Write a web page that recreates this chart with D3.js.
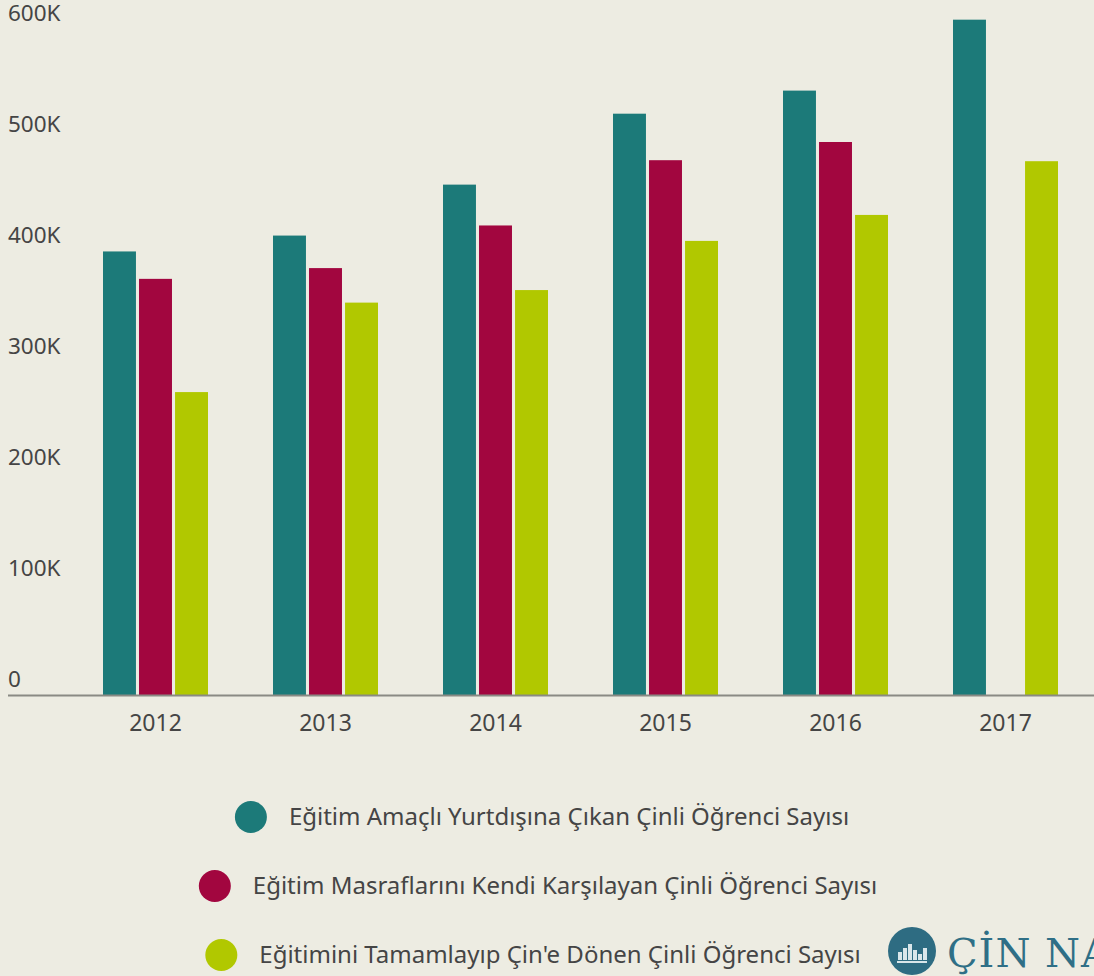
<!DOCTYPE html>
<html>
<head>
<meta charset="utf-8">
<script src="https://cdn.jsdelivr.net/npm/d3@7"></script>
<style>
  html, body { margin: 0; padding: 0; background: #edece2; overflow: hidden; }
  svg { display: block; }
  text { font-family: "Noto Sans", "Open Sans", sans-serif; fill: #454545; }
</style>
</head>
<body>
<script>
const years = ["2012", "2013", "2014", "2015", "2016", "2017"];
const seriesNames = [
  "Eğitim Amaçlı Yurtdışına Çıkan Çinli Öğrenci Sayısı",
  "Eğitim Masraflarını Kendi Karşılayan Çinli Öğrenci Sayısı",
  "Eğitimini Tamamlayıp Çin'e Dönen Çinli Öğrenci Sayısı"
];
const seriesColors = ["#1c7a79", "#a2063f", "#b1c800"];
// values in thousands (2017 has no middle bar)
const abroad = [399.6, 413.9, 459.8, 523.7, 544.5, 608.4];
const selfFunded = [374.9, 384.6, 423.0, 481.8, 498.2, null];
const returned = [272.9, 353.5, 364.8, 409.1, 432.5, 480.9];
const yTicks = [0, 100, 200, 300, 400, 500, 600];

const w = 1094, h = 976;
const svg = d3.select("body").append("svg").attr("width", w).attr("height", h);

const allSeries = [abroad, selfFunded, returned];

const x0 = d3.scaleBand().domain(years).range([70.5, 1090.5]).padding(0);
const x1 = d3.scaleBand().domain(d3.range(3))
  .range([x0.bandwidth() / 2 - 52.5, x0.bandwidth() / 2 + 52.5])
  .paddingInner(0.085);
const y = d3.scaleLinear().domain([0, 600]).range([695, 29]);

// y tick labels sit just above each value level, no gridlines
svg.append("g").selectAll("text")
  .data(yTicks)
  .enter()
  .append("text")
  .attr("x", 8)
  .attr("y", d => y(d) - 8)
  .attr("font-size", 22.5)
  .text(d => d === 0 ? "0" : d + "K");

// bars
const groups = svg.append("g").selectAll("g")
  .data(years)
  .enter()
  .append("g")
  .attr("transform", d => `translate(${x0(d)},0)`);

groups.selectAll("rect")
  .data((yr, i) => allSeries.map((s, k) => ({ k, v: s[i] })).filter(d => d.v != null))
  .enter()
  .append("rect")
  .attr("x", d => x1(d.k))
  .attr("y", d => y(d.v))
  .attr("width", x1.bandwidth())
  .attr("height", d => y(0) - y(d.v))
  .attr("fill", d => seriesColors[d.k]);

// baseline
svg.append("line")
  .attr("x1", 8).attr("x2", w)
  .attr("y1", 695.5).attr("y2", 695.5)
  .attr("stroke", "#8a8a84")
  .attr("stroke-width", 2);

// x labels
const xAxis = d3.axisBottom(x0).tickSize(0).tickPadding(0);
const xg = svg.append("g").attr("transform", "translate(0,695)").call(xAxis);
xg.select(".domain").remove();
xg.selectAll("text")
  .attr("dy", 0)
  .attr("y", 36)
  .attr("font-size", 23)
  .style("font-family", "'Noto Sans', sans-serif")
  .attr("fill", "#454545");

// legend, each row roughly centred
const legendRows = [817, 886, 955];
const legendCenters = [542, 538, 533];
seriesNames.forEach((name, i) => {
  const g = svg.append("g");
  const t = g.append("text")
    .attr("y", legendRows[i])
    .attr("dy", "0.35em")
    .attr("font-size", 24)
    .text(name);
  const tw = t.node().getComputedTextLength();
  const total = 32 + 22 + tw;
  const left = legendCenters[i] - total / 2;
  g.append("circle")
    .attr("cx", left + 16)
    .attr("cy", legendRows[i])
    .attr("r", 16)
    .attr("fill", seriesColors[i]);
  t.attr("x", left + 54);
});

// logo
const logo = svg.append("g").attr("transform", "translate(912,951)");
logo.append("circle").attr("r", 24).attr("fill", "#2e6c82");
const barsH = [8, 12, 16, 10, 6, 12];
barsH.forEach((bh, i) => {
  logo.append("rect")
    .attr("x", -14 + i * 5)
    .attr("y", 9 - bh)
    .attr("width", 4)
    .attr("height", bh)
    .attr("fill", "#d9e6ea");
});
logo.append("rect").attr("x", -15).attr("y", 10).attr("width", 30).attr("height", 2).attr("fill", "#d9e6ea");
svg.append("text")
  .attr("x", 947)
  .attr("y", 967)
  .attr("font-size", 40)
  .attr("letter-spacing", 1)
  .style("font-family", "'DejaVu Serif', 'Liberation Serif', serif")
  .style("fill", "#2f6f86")
  .text("ÇİN NABZI");
</script>
</body>
</html>
